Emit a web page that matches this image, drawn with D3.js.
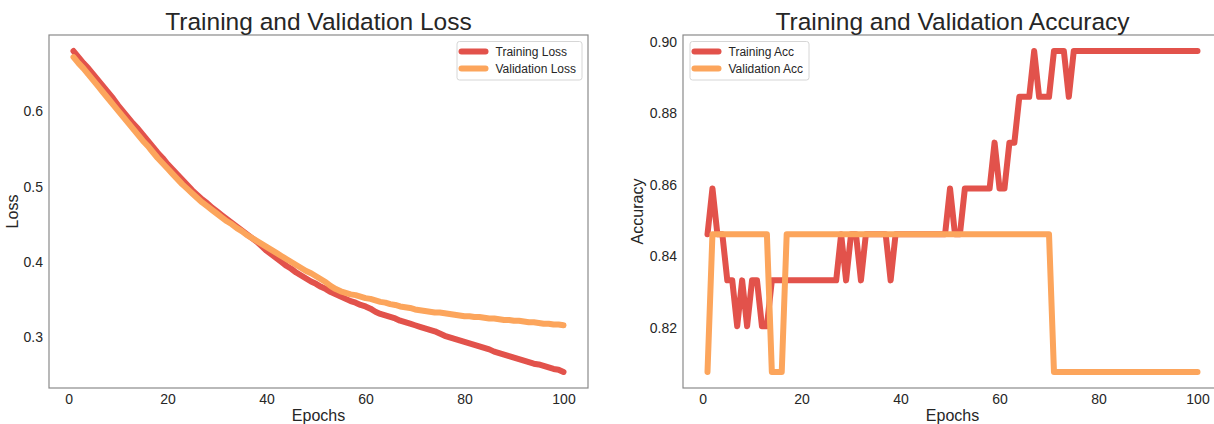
<!DOCTYPE html>
<html>
<head>
<meta charset="utf-8">
<script src="https://cdnjs.cloudflare.com/ajax/libs/d3/7.8.5/d3.min.js"></script>
<style>
  body { margin: 0; background: #fff; }
  svg { display: block; }
</style>
</head>
<body>
<svg id="chart" width="1214" height="424"></svg>
<script>
// Data
// Per-epoch values (epochs 1..100)

const EPOCHS = d3.range(1, 101);
const X_TICKS = [0, 20, 40, 60, 80, 100];
const LOSS_TICKS = [0.3, 0.4, 0.5, 0.6];
const ACC_TICKS = [0.82, 0.84, 0.86, 0.88, 0.90];

const trainLoss = [
  0.680, 0.672, 0.664, 0.657, 0.649, 0.641, 0.633, 0.625, 0.617, 0.608,
  0.600, 0.592, 0.584, 0.577, 0.569, 0.561, 0.553, 0.545, 0.538, 0.530,
  0.523, 0.516, 0.509, 0.502, 0.495, 0.489, 0.483, 0.478, 0.472, 0.467,
  0.462, 0.457, 0.452, 0.447, 0.442, 0.437, 0.432, 0.427, 0.421, 0.415,
  0.410, 0.405, 0.400, 0.395, 0.391, 0.386, 0.382, 0.378, 0.374, 0.371,
  0.367, 0.364, 0.360, 0.357, 0.354, 0.351, 0.348, 0.346, 0.343, 0.341,
  0.338, 0.334, 0.331, 0.329, 0.327, 0.325, 0.322, 0.320, 0.318, 0.316,
  0.314, 0.312, 0.310, 0.308, 0.305, 0.302, 0.300, 0.298, 0.296, 0.294,
  0.292, 0.290, 0.288, 0.286, 0.284, 0.281, 0.279, 0.277, 0.275, 0.273,
  0.271, 0.269, 0.267, 0.265, 0.264, 0.262, 0.260, 0.258, 0.257, 0.254
];

const valLoss = [
  0.672, 0.664, 0.657, 0.649, 0.641, 0.633, 0.625, 0.617, 0.609, 0.601,
  0.593, 0.585, 0.577, 0.569, 0.561, 0.554, 0.546, 0.538, 0.531, 0.524,
  0.517, 0.510, 0.503, 0.497, 0.491, 0.485, 0.479, 0.474, 0.469, 0.464,
  0.459, 0.454, 0.450, 0.445, 0.441, 0.436, 0.432, 0.428, 0.424, 0.420,
  0.416, 0.412, 0.408, 0.404, 0.400, 0.396, 0.392, 0.388, 0.385, 0.381,
  0.377, 0.373, 0.368, 0.364, 0.361, 0.359, 0.357, 0.356, 0.354, 0.352,
  0.351, 0.349, 0.347, 0.346, 0.344, 0.343, 0.341, 0.340, 0.339, 0.337,
  0.336, 0.335, 0.334, 0.333, 0.333, 0.332, 0.331, 0.330, 0.329, 0.328,
  0.328, 0.327, 0.327, 0.326, 0.325, 0.325, 0.324, 0.323, 0.323, 0.322,
  0.322, 0.321, 0.320, 0.320, 0.319, 0.318, 0.318, 0.317, 0.317, 0.316
];

const trainAcc = [
  0.8462, 0.8590, 0.8462, 0.8462, 0.8333, 0.8333, 0.8205, 0.8333, 0.8205, 0.8333,
  0.8333, 0.8205, 0.8205, 0.8333, 0.8333, 0.8333, 0.8333, 0.8333, 0.8333, 0.8333,
  0.8333, 0.8333, 0.8333, 0.8333, 0.8333, 0.8333, 0.8333, 0.8462, 0.8333, 0.8462,
  0.8462, 0.8333, 0.8462, 0.8462, 0.8462, 0.8462, 0.8462, 0.8333, 0.8462, 0.8462,
  0.8462, 0.8462, 0.8462, 0.8462, 0.8462, 0.8462, 0.8462, 0.8462, 0.8462, 0.8590,
  0.8462, 0.8462, 0.8590, 0.8590, 0.8590, 0.8590, 0.8590, 0.8590, 0.8718, 0.8590,
  0.8590, 0.8718, 0.8718, 0.8846, 0.8846, 0.8846, 0.8974, 0.8846, 0.8846, 0.8846,
  0.8974, 0.8974, 0.8974, 0.8846, 0.8974, 0.8974, 0.8974, 0.8974, 0.8974, 0.8974,
  0.8974, 0.8974, 0.8974, 0.8974, 0.8974, 0.8974, 0.8974, 0.8974, 0.8974, 0.8974,
  0.8974, 0.8974, 0.8974, 0.8974, 0.8974, 0.8974, 0.8974, 0.8974, 0.8974, 0.8974
];

const valAcc = [
  0.8077, 0.8462, 0.8462, 0.8462, 0.8462, 0.8462, 0.8462, 0.8462, 0.8462, 0.8462,
  0.8462, 0.8462, 0.8462, 0.8077, 0.8077, 0.8077, 0.8462, 0.8462, 0.8462, 0.8462,
  0.8462, 0.8462, 0.8462, 0.8462, 0.8462, 0.8462, 0.8462, 0.8462, 0.8462, 0.8462,
  0.8462, 0.8462, 0.8462, 0.8462, 0.8462, 0.8462, 0.8462, 0.8462, 0.8462, 0.8462,
  0.8462, 0.8462, 0.8462, 0.8462, 0.8462, 0.8462, 0.8462, 0.8462, 0.8462, 0.8462,
  0.8462, 0.8462, 0.8462, 0.8462, 0.8462, 0.8462, 0.8462, 0.8462, 0.8462, 0.8462,
  0.8462, 0.8462, 0.8462, 0.8462, 0.8462, 0.8462, 0.8462, 0.8462, 0.8462, 0.8462,
  0.8077, 0.8077, 0.8077, 0.8077, 0.8077, 0.8077, 0.8077, 0.8077, 0.8077, 0.8077,
  0.8077, 0.8077, 0.8077, 0.8077, 0.8077, 0.8077, 0.8077, 0.8077, 0.8077, 0.8077,
  0.8077, 0.8077, 0.8077, 0.8077, 0.8077, 0.8077, 0.8077, 0.8077, 0.8077, 0.8077
];

// Chart setup
const svg   = d3.select("#chart");
const FONT  = "'Liberation Sans', Arial, sans-serif";
const INK   = "#262626";
const RED   = "#e2524b";
const ORANGE = "#fca55c";
const BOX   = { top: 35, bottom: 388, width: 539 };

// matplotlib-style 5% margin around the data range
function pad([lo, hi]) {
  const m = (hi - lo) * 0.05;
  return [lo - m, hi + m];
}

function panel({ left, title, yLabel, yLabelX, yTicks, yFmt, series, legendSide }) {
  const right = left + BOX.width;
  const cx = (left + right) / 2;

  const x = d3.scaleLinear().domain(pad(d3.extent(EPOCHS))).range([left, right]);
  const y = d3.scaleLinear()
    .domain(pad(d3.extent(series.flatMap(s => s.values))))
    .range([BOX.bottom, BOX.top]);

  const g = svg.append("g");

  // axes (no tick marks, seaborn "white" look)
  g.append("g").attr("transform", `translate(0,${BOX.bottom})`)
    .call(d3.axisBottom(x).tickValues(X_TICKS).tickSize(0).tickPadding(6))
    .call(a => a.select(".domain").remove())
    .call(a => a.selectAll("text")
      .attr("fill", INK).attr("font-size", "14px").attr("font-family", FONT));

  g.append("g").attr("transform", `translate(${left},0)`)
    .call(d3.axisLeft(y).tickValues(yTicks).tickFormat(yFmt).tickSize(0).tickPadding(6))
    .call(a => a.select(".domain").remove())
    .call(a => a.selectAll("text")
      .attr("fill", INK).attr("font-size", "14px").attr("font-family", FONT));

  // lines
  const line = d3.line().x((d, i) => x(EPOCHS[i])).y(d => y(d));
  series.forEach(s => {
    g.append("path")
      .attr("d", line(s.values))
      .attr("fill", "none")
      .attr("stroke", s.color)
      .attr("stroke-width", 6)
      .attr("stroke-linecap", "round")
      .attr("stroke-linejoin", "round");
  });

  // frame
  g.append("rect")
    .attr("x", left).attr("y", BOX.top)
    .attr("width", BOX.width).attr("height", BOX.bottom - BOX.top)
    .attr("fill", "none").attr("stroke", "#8a8a8a").attr("stroke-width", 1.2);

  // titles
  g.append("text")
    .attr("x", cx).attr("y", 30).attr("text-anchor", "middle")
    .attr("font-family", FONT).attr("font-size", "24.5px").attr("fill", INK)
    .text(title);
  g.append("text")
    .attr("x", cx).attr("y", 421).attr("text-anchor", "middle")
    .attr("font-family", FONT).attr("font-size", "16px").attr("fill", INK)
    .text("Epochs");
  g.append("text")
    .attr("transform", `translate(${yLabelX},${(BOX.top + BOX.bottom) / 2}) rotate(-90)`)
    .attr("text-anchor", "middle")
    .attr("font-family", FONT).attr("font-size", "16px").attr("fill", INK)
    .text(yLabel);

  // legend
  const lg = g.append("g");
  const frame = lg.append("rect");
  const labels = series.map((s, i) => {
    const ry = 51.5 + i * 17;
    lg.append("line")
      .attr("x1", 4.5).attr("x2", 28.5).attr("y1", ry).attr("y2", ry)
      .attr("stroke", s.color).attr("stroke-width", 6).attr("stroke-linecap", "round");
    return lg.append("text")
      .attr("x", 38.5).attr("y", ry).attr("dy", "0.35em")
      .attr("font-family", FONT).attr("font-size", "12px").attr("fill", INK)
      .text(s.name);
  });
  const textW = d3.max(labels, t => t.node().getComputedTextLength());
  const lw = 38.5 + textW + 6;
  frame.attr("x", 0).attr("y", 41.5).attr("width", lw).attr("height", 38.5)
    .attr("rx", 2.5).attr("fill", "#fff")
    .attr("stroke", "#d6d6d6").attr("stroke-width", 1);
  const lx = legendSide === "right" ? right - 6 - lw : left + 7;
  lg.attr("transform", `translate(${lx},0)`);
}

panel({
  left: 49,
  title: "Training and Validation Loss",
  yLabel: "Loss", yLabelX: 18,
  yTicks: LOSS_TICKS, yFmt: d3.format(".1f"),
  series: [
    { name: "Training Loss", values: trainLoss, color: RED },
    { name: "Validation Loss", values: valLoss, color: ORANGE }
  ],
  legendSide: "right"
});

panel({
  left: 683,
  title: "Training and Validation Accuracy",
  yLabel: "Accuracy", yLabelX: 643,
  yTicks: ACC_TICKS, yFmt: d3.format(".2f"),
  series: [
    { name: "Training Acc", values: trainAcc, color: RED },
    { name: "Validation Acc", values: valAcc, color: ORANGE }
  ],
  legendSide: "left"
});
</script>
</body>
</html>
